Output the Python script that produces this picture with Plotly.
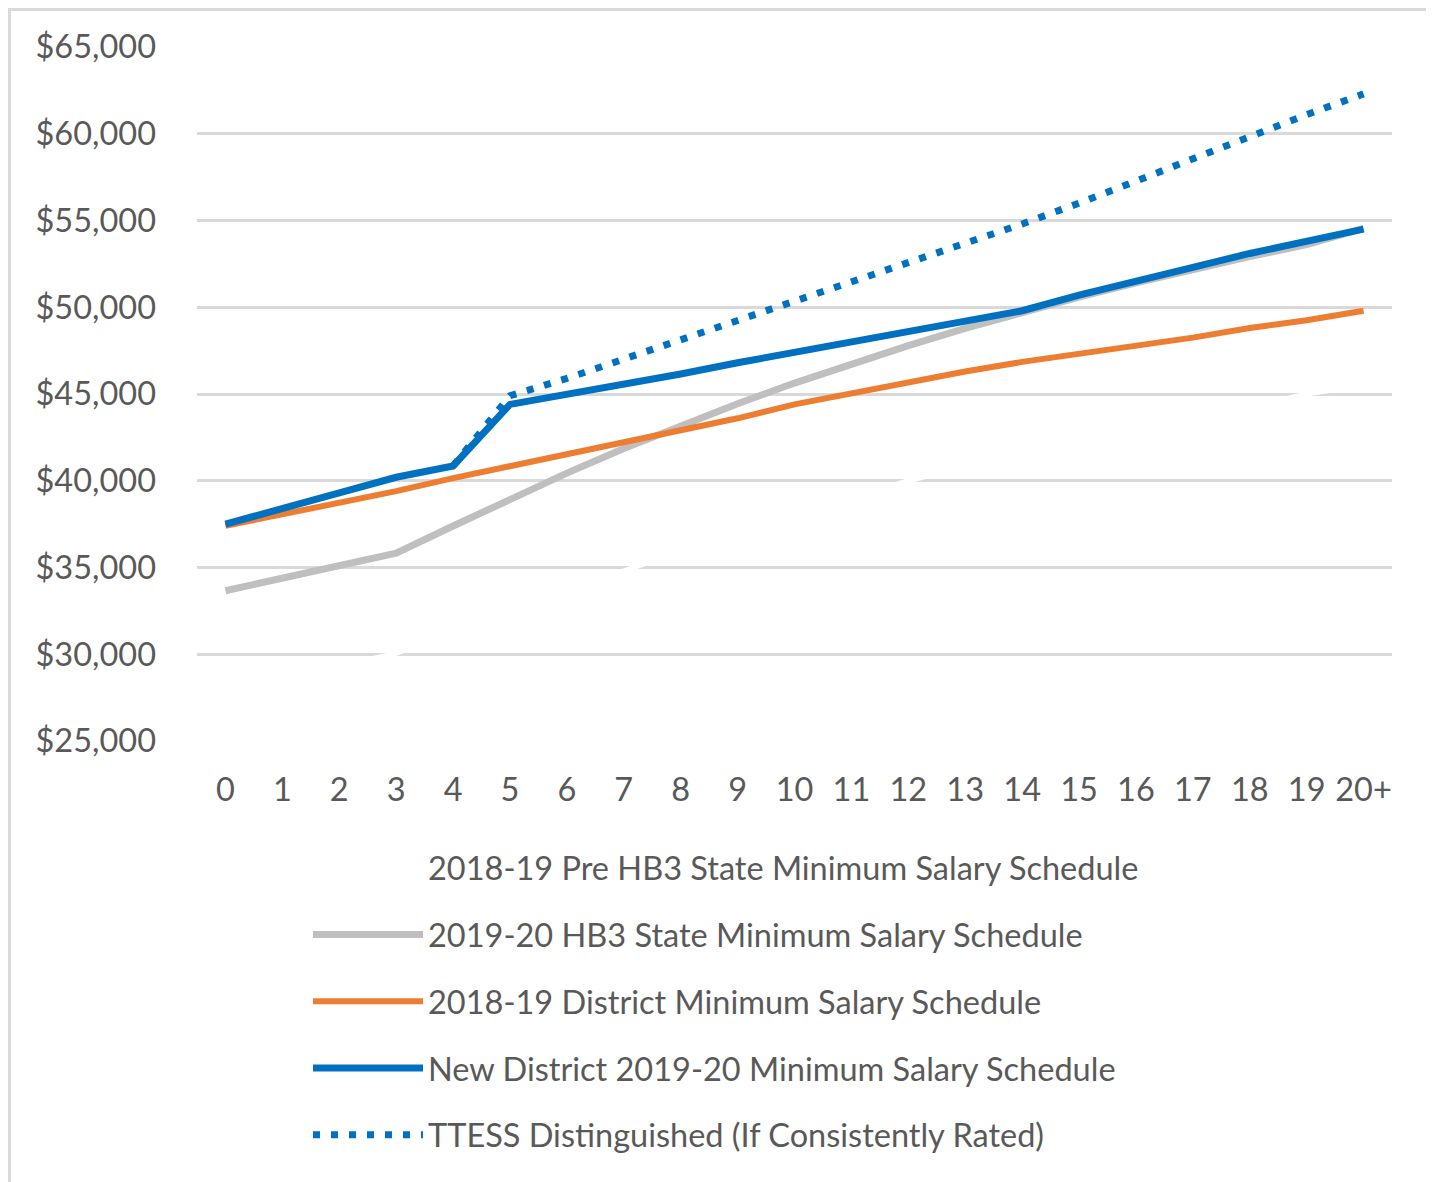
import plotly.graph_objects as go

years = ["0", "1", "2", "3", "4", "5", "6", "7", "8", "9", "10",
         "11", "12", "13", "14", "15", "16", "17", "18", "19", "20+"]

pre_hb3_state = [27900, 28600, 29300, 30050, 31300, 32500, 33750, 34800, 35900, 37000, 38000,
                 39000, 40000, 40800, 41600, 42300, 42950, 43600, 44250, 45000, 45500]
hb3_state = [33660, 34390, 35110, 35830, 37390, 38950, 40440, 41860, 43180, 44440, 45630,
             46730, 47790, 48780, 49710, 50590, 51410, 52180, 52920, 53610, 54540]
district_1819 = [37400, 38050, 38700, 39400, 40150, 40850, 41500, 42250, 42900, 43600, 44400,
                 45050, 45700, 46300, 46850, 47300, 47800, 48250, 48800, 49250, 49800]
district_1920 = [37500, 38450, 39300, 40200, 40850, 44400, 44950, 45600, 46150, 46800, 47400,
                 48050, 48600, 49200, 49800, 50700, 51550, 52300, 53100, 53850, 54500]
ttess_years = years[4:]
ttess = [40850, 44900, 45900, 47000, 48100, 49200, 50300, 51400, 52500, 53600, 54800,
         56000, 57300, 58600, 59900, 61100, 62300]

names = ["2018-19 Pre HB3 State Minimum Salary Schedule",
         "2019-20 HB3 State Minimum Salary Schedule",
         "2018-19 District Minimum Salary Schedule",
         "New District 2019-20 Minimum Salary Schedule",
         "TTESS Distinguished (If Consistently Rated)"]

FONT = "Lato, 'Liberation Sans', sans-serif"
TXT = "#595959"
FS = 32.5

fig = go.Figure()
fig.add_trace(go.Scatter(x=years, y=pre_hb3_state, name=names[0], mode="lines",
                         line=dict(color="#ffffff", width=5), legendgroup="a", legendrank=1))
fig.add_trace(go.Scatter(x=years, y=hb3_state, name=names[1], mode="lines",
                         line=dict(color="#bfbfbf", width=7), legendgroup="b", legendrank=2))
fig.add_trace(go.Scatter(x=years, y=district_1819, name=names[2], mode="lines",
                         line=dict(color="#ed7d31", width=6), legendgroup="c", legendrank=3))
fig.add_trace(go.Scatter(x=ttess_years, y=ttess, name=names[4], mode="lines",
                         line=dict(color="#0070c0", width=7, dash="7px,11px"),
                         legendgroup="e", legendrank=5))
fig.add_trace(go.Scatter(x=years, y=district_1920, name=names[3], mode="lines",
                         line=dict(color="#0070c0", width=7), legendgroup="d", legendrank=4))

# page is offset by the 8px body margin
OFF = 8
W, H = 1434 - OFF, 1182 - OFF
L, R, T, B = 197 - OFF, 1392 - OFF, 47 - OFF, 741 - OFF
pw, ph = R - L, B - T


def px(x):
    return (x - OFF - L) / pw


def py(y):
    return (B - (y - OFF)) / ph


fig.update_layout(
    width=W, height=H,
    margin=dict(l=L, r=W - R, t=T, b=H - B),
    paper_bgcolor="white", plot_bgcolor="white",
    font=dict(family=FONT, size=FS, color=TXT),
    showlegend=True,
    legend=dict(orientation="v", x=px(308), y=py(840), xanchor="left", yanchor="top",
                font=dict(family=FONT, size=FS, color=TXT),
                tracegroupgap=21.5, itemwidth=110, traceorder="grouped",
                bgcolor="rgba(0,0,0,0)"),
    xaxis=dict(type="category", range=[-0.5, 20.5], showgrid=False, zeroline=False,
               showline=False, ticks="", ticklabelstandoff=26,
               tickfont=dict(family=FONT, size=FS, color=TXT)),
    yaxis=dict(range=[25000, 65000], dtick=5000, tick0=25000, tickprefix="$",
               tickformat=",d", showgrid=True, gridcolor="#d9d9d9", gridwidth=2.5,
               zeroline=False, showline=False, ticks="", ticklabelstandoff=40,
               tickfont=dict(family=FONT, size=FS, color=TXT)),
    shapes=[dict(type="rect", xref="paper", yref="paper",
                 x0=px(9.5), x1=px(1432), y0=py(1200), y1=py(9.5),
                 line=dict(color="#d9d9d9", width=3), layer="below")],
)

fig.write_html("out.html")
